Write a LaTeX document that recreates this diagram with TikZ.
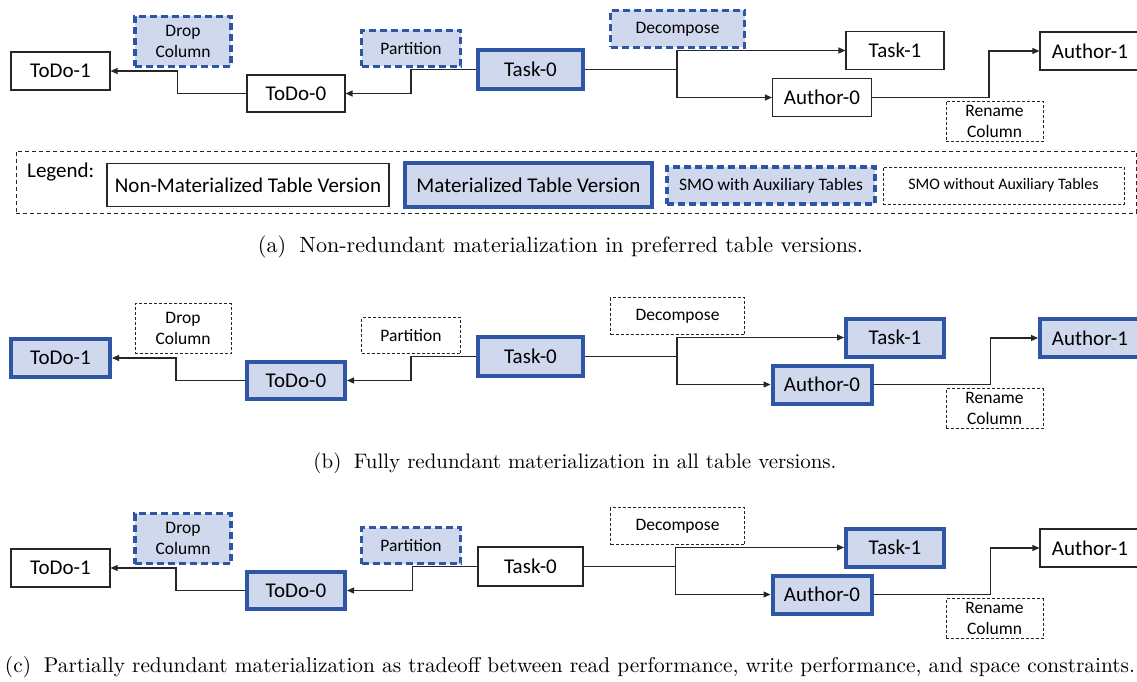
\documentclass[tikz,border=0pt]{standalone}
\usepackage{fontspec}
\setsansfont{Carlito}
\usetikzlibrary{arrows.meta}
\definecolor{matfill}{RGB}{208,216,238}
\definecolor{matline}{RGB}{47,85,165}
\tikzset{
  tfont/.style={font=\sffamily\fontsize{21}{23}\selectfont},
  sfont/.style={font=\sffamily\fontsize{17.5}{21}\selectfont},
  tbl/.style={draw=black!85, line width=1.1pt, fill=white, inner sep=0pt, tfont},
  mat/.style={draw=matline, fill=matfill, line width=4pt, inner sep=0pt, tfont},
  smoaux/.style={draw=matline, fill=matfill, line width=3.5pt, dash pattern=on 7pt off 4pt, inner sep=0pt, align=center, sfont},
  smo/.style={draw=black!85, fill=white, line width=1pt, dash pattern=on 3pt off 2pt, inner sep=0pt, align=center, sfont},
  conn/.style={line width=1.2pt, draw=black!85},
  arr/.style={conn, -{Triangle[length=7pt,width=6pt]}},
  caption/.style={inner sep=0pt, font=\rmfamily},
}
\newcommand\PanelBody[1]{%
  \node[sTodoOne, minimum width=99pt, minimum height=38pt] (#1td1) at (60.5,71) {ToDo-1};
  \node[sDrop, minimum width=96pt, minimum height=50pt] (#1drop) at (183,41.5) {Drop\\Column};
  \node[sTodoZero, minimum width=98pt, minimum height=37pt] (#1td0) at (296,93.5) {ToDo-0};
  \node[sPart, minimum width=99pt, minimum height=36pt] (#1part) at (411,48.5) {Partition};
  \node[sTaskZero, minimum width=105pt, minimum height=39pt] (#1t0) at (530.5,69.5) {Task-0};
  \node[sDec, minimum width=134pt, minimum height=37pt] (#1dec) at (677.5,29) {Decompose};
  \node[sTaskOne, minimum width=98pt, minimum height=38pt] (#1t1) at (895,50.5) {Task-1};
  \node[sAuthZero, minimum width=99pt, minimum height=38pt] (#1a0) at (822,97.5) {Author-0};
  \node[sAuthOne, minimum width=100pt, minimum height=38pt] (#1a1) at (1090,51) {Author-1};
  \node[sRen, minimum width=97pt, minimum height=40pt] (#1ren) at (994.5,121.5) {Rename\\Column};
  \draw[arr] (#1t0.west) -- ++(-65,0) |- (#1td0.east);
  \draw[arr] (#1td0.west) -- ++(-69,0) |- (#1td1.east);
  \draw[arr] (#1t0.east) -- ++(92,0) |- (#1t1.west);
  \draw[arr] (#1t0.east) -- ++(92,0) |- (#1a0.west);
  \draw[arr] (#1a0.east) -- ++(117,0) |- (#1a1.west);
}
\begin{document}
\begin{tikzpicture}[x=1pt,y=-1pt]
\useasboundingbox (0,0) rectangle (1137,682);
% panel (a)
\begin{scope}[sTodoOne/.style=tbl, sTodoZero/.style=tbl, sTaskZero/.style=mat,
  sTaskOne/.style=tbl, sAuthZero/.style=tbl, sAuthOne/.style=tbl,
  sDrop/.style=smoaux, sPart/.style=smoaux, sDec/.style=smoaux, sRen/.style=smo]
  \PanelBody{a}
\end{scope}
% legend
\node[draw=black!85, line width=1pt, dash pattern=on 4pt off 3pt, minimum width=1120pt, minimum height=62pt, inner sep=0pt] (legbox) at (576,182) {};
\node[anchor=west, inner sep=0pt, tfont] (legtxt) at (27,172) {Legend:};
\node[tbl, minimum width=282pt, minimum height=43pt] (legnon) at (248,185) {Non-Materialized Table Version};
\node[mat, minimum width=247pt, minimum height=44pt] (legmat) at (528.5,185) {Materialized Table Version};
\node[smoaux, minimum width=208pt, minimum height=37pt] (legaux) at (771,185.5) {SMO with Auxiliary Tables};
\node[smo, minimum width=241pt, minimum height=37pt, font=\sffamily\fontsize{16}{19}\selectfont] (legsmo) at (1003.5,185.5) {SMO without Auxiliary Tables};
\node[caption] (capa) at (560.5,247) {\resizebox{605pt}{!}{(a)\hspace{0.6em}Non-redundant materialization in preferred table versions.}};
% panel (b)
\begin{scope}[yshift=-287pt, sTodoOne/.style=mat, sTodoZero/.style=mat, sTaskZero/.style=mat,
  sTaskOne/.style=mat, sAuthZero/.style=mat, sAuthOne/.style=mat,
  sDrop/.style=smo, sPart/.style=smo, sDec/.style=smo, sRen/.style=smo]
  \PanelBody{b}
\end{scope}
\node[caption] (capb) at (575,463) {\resizebox{523pt}{!}{(b)\hspace{0.6em}Fully redundant materialization in all table versions.}};
% panel (c)
\begin{scope}[yshift=-497pt, sTodoOne/.style=tbl, sTodoZero/.style=mat, sTaskZero/.style=tbl,
  sTaskOne/.style=mat, sAuthZero/.style=mat, sAuthOne/.style=tbl,
  sDrop/.style=smoaux, sPart/.style=smoaux, sDec/.style=smo, sRen/.style=smo]
  \PanelBody{c}
\end{scope}
\node[caption] (capc) at (570,667) {\resizebox{1130pt}{!}{(c)\hspace{0.6em}Partially redundant materialization as tradeoff between read performance, write performance, and space constraints.}};
\end{tikzpicture}
\end{document}
